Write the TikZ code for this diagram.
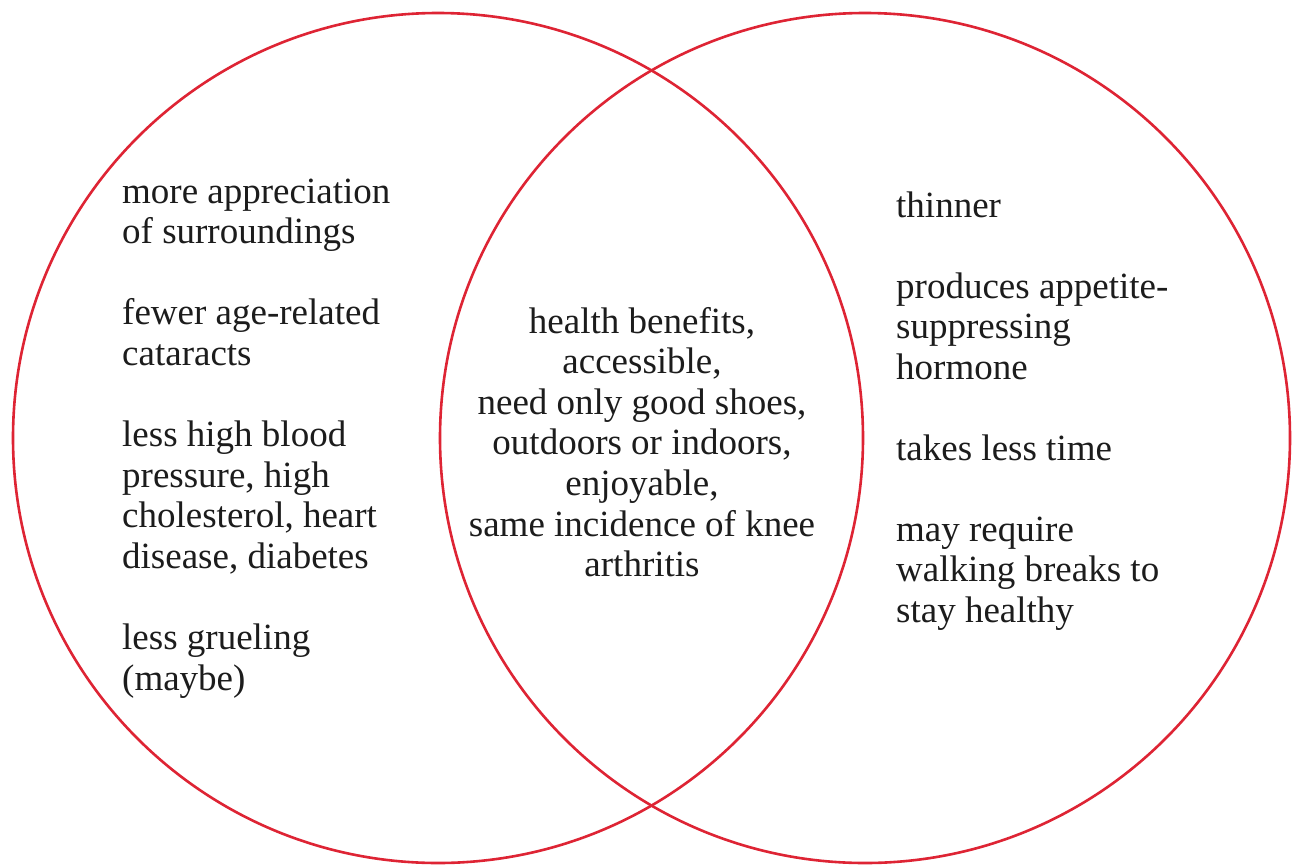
\documentclass[tikz,border=0pt]{standalone}
\usepackage{fontspec}
\setmainfont{Liberation Serif}
\definecolor{vred}{RGB}{222,36,52}
\definecolor{vtext}{RGB}{28,28,28}
\begin{document}
\begin{tikzpicture}[x=1pt,y=-1pt,
  ring/.style={draw=vred,line width=2.6pt},
  lt/.style={anchor=base west,inner sep=0pt,text=vtext,font=\fontsize{37}{40.6}\selectfont},
  ct/.style={anchor=base,inner sep=0pt,text=vtext,font=\fontsize{37}{40.6}\selectfont}]
\useasboundingbox (0,0) rectangle (1298,865);
\fill[white] (0,0) rectangle (1298,865);
\draw[ring] (438,438) circle[radius=425];
\draw[ring] (865,438) circle[radius=425];
% left
\node[lt] (l1) at (122,203) {more appreciation};
\node[lt] (l2) at (122,243.6) {of surroundings};
\node[lt] (l3) at (122,324.8) {fewer age-related};
\node[lt] (l4) at (122,365.4) {cataracts};
\node[lt] (l5) at (122,446.6) {less high blood};
\node[lt] (l6) at (122,487.2) {pressure, high};
\node[lt] (l7) at (122,527.8) {cholesterol, heart};
\node[lt] (l8) at (122,568.4) {disease, diabetes};
\node[lt] (l9) at (122,649.6) {less grueling};
\node[lt] (l10) at (122,690.2) {(maybe)};
% centre
\node[ct] (c1) at (642,333) {health benefits,};
\node[ct] (c2) at (642,373.6) {accessible,};
\node[ct] (c3) at (642,414.2) {need only good shoes,};
\node[ct] (c4) at (642,454.8) {outdoors or indoors,};
\node[ct] (c5) at (642,495.4) {enjoyable,};
\node[ct] (c6) at (642,536) {same incidence of knee};
\node[ct] (c7) at (642,576.6) {arthritis};
% right
\node[lt] (r1) at (896,217) {thinner};
\node[lt] (r2) at (896,298) {produces appetite-};
\node[lt] (r3) at (896,338.5) {suppressing};
\node[lt] (r4) at (896,379) {hormone};
\node[lt] (r5) at (896,460) {takes less time};
\node[lt] (r6) at (896,541) {may require};
\node[lt] (r7) at (896,581.5) {walking breaks to};
\node[lt] (r8) at (896,622) {stay healthy};
\end{tikzpicture}
\end{document}
